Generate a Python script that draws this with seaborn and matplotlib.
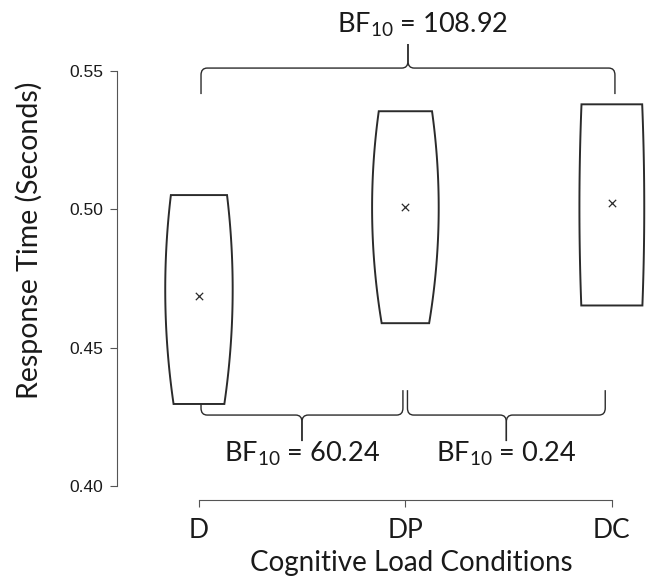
import numpy as np
import pandas as pd
import matplotlib
matplotlib.use("Agg")
import matplotlib.pyplot as plt
import seaborn as sns
from matplotlib.path import Path
from matplotlib.patches import PathPatch

# ---------------- data ----------------
conditions = ["D", "DP", "DC"]
means = [0.4687, 0.5008, 0.5023]
lower = [0.4297, 0.4589, 0.4653]
upper = [0.5052, 0.5355, 0.5380]
# half widths of the density shapes (category units) at bottom / middle / top
hw_bottom = [0.123, 0.115, 0.148]
hw_mid = [0.163, 0.161, 0.157]
hw_top = [0.136, 0.129, 0.147]

yticks = [0.40, 0.45, 0.50, 0.55]

# Bayes factor comparisons: (from, to, label, placement)
bf_pairs = [(0, 2), (0, 1), (1, 2)]
bf_labels = ["108.92", "60.24", "0.24"]
bf_side = ["top", "bottom", "bottom"]

# ---------------- style ----------------
sns.set_style("ticks")
plt.rcParams["font.family"] = ["Lato", "DejaVu Sans"]
INK = "#2b2b2b"
TXT = "#1a1a1a"

fig = plt.figure(figsize=(6.49, 5.78), dpi=100)
ax = fig.add_axes([117 / 649, 78 / 578, 532 / 649, 500 / 578])

# density shapes
t = np.linspace(0, 1, 80)
L0 = 2 * (t - 0.5) * (t - 1)
L1 = -4 * t * (t - 1)
L2 = 2 * t * (t - 0.5)
for i in range(len(conditions)):
    hw = hw_bottom[i] * L0 + hw_mid[i] * L1 + hw_top[i] * L2
    yy = lower[i] + t * (upper[i] - lower[i])
    xs = np.concatenate([i - hw, (i + hw)[::-1]])
    ys = np.concatenate([yy, yy[::-1]])
    ax.fill(xs, ys, facecolor="white", edgecolor=INK, linewidth=1.4, zorder=2)

# means
df = pd.DataFrame({"condition": conditions, "mean": means})
sns.scatterplot(data=df, x="condition", y="mean", marker="x", s=28,
                color=INK, linewidth=0.9, ax=ax, zorder=3)


def brace(ax, x0, x1, ye, yh, yc, rx=0.03, ry=0.0025):
    s = 1 if yc > yh else -1
    xm = (x0 + x1) / 2
    for xe, d in ((x0, 1), (x1, -1)):
        verts = [(xe, ye), (xe, yh - s * ry), (xe, yh), (xe + d * rx, yh),
                 (xm - d * rx, yh), (xm, yh), (xm, yh + s * ry), (xm, yc)]
        codes = [Path.MOVETO, Path.LINETO, Path.CURVE3, Path.CURVE3,
                 Path.LINETO, Path.CURVE3, Path.CURVE3, Path.LINETO]
        ax.add_patch(PathPatch(Path(verts, codes), facecolor="none",
                               edgecolor=INK, linewidth=1.0, clip_on=False))
    return xm


for (a, b), lab, side in zip(bf_pairs, bf_labels, bf_side):
    txt = r"$\mathregular{BF_{10}}$ = " + lab
    if side == "top":
        xm = brace(ax, a + 0.01, b + 0.015, 0.5417, 0.5511, 0.5598)
        ax.text(xm + 0.07, 0.5637, txt, ha="center", va="baseline",
                fontsize=19.5, color=TXT)
    else:
        xm = brace(ax, a + 0.01, b - 0.012 - 0.02 * (a == 1), 0.4347, 0.4257, 0.4163)
        ax.text(xm, 0.4087, txt, ha="center", va="baseline",
                fontsize=19.5, color=TXT)

# axes
ax.set_xlim(-0.397, 2.18)
ax.set_ylim(0.395, 0.5757)
ax.set_xticks(range(len(conditions)))
ax.set_xticklabels(conditions, fontsize=19, color=TXT)
ax.set_yticks(yticks)
ax.set_yticklabels([f"{v:.2f}" for v in yticks], fontsize=12.5,
                   family="Liberation Sans", color=TXT)
ax.tick_params(axis="x", length=5, width=0.8, pad=8, color="#555555")
ax.tick_params(axis="y", length=5, width=0.8, pad=5, color="#555555")
ax.set_xlabel("Cognitive Load Conditions", fontsize=20, color=TXT)
ax.set_ylabel("Response Time (Seconds)", fontsize=20.5, color=TXT)
ax.xaxis.set_label_coords(0.553, -0.1)
ax.yaxis.set_label_coords(-0.14, 0.52)
sns.despine(ax=ax, trim=True)
for sp in ("left", "bottom"):
    ax.spines[sp].set_color("#555555")
    ax.spines[sp].set_linewidth(0.8)
ax.patch.set_alpha(0)

fig.savefig("out.png", dpi=100)
